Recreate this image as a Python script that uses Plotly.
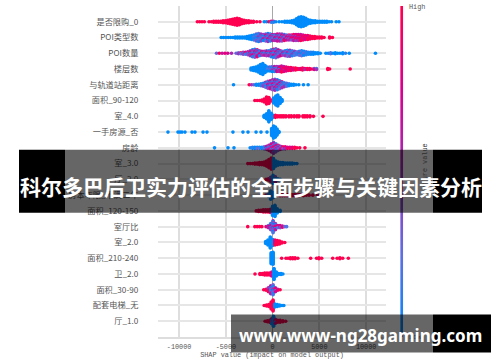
import plotly.graph_objects as go

features = ["是否限购_0","POI类型数","POI数量","楼层数","与轨道站距离","面积_90-120","室_4.0","一手房源_否","房龄","室_3.0",
            "厅_2.0","房本年限_不满二年","面积_120-150","室厅比","室_2.0","面积_210-240","卫_2.0","面积_30-90","配套电梯_无","厅_1.0"]

r0_x=[-8050,-7800,-7550,-7300,-6800,-6550,-6300,-6050,-5800,-5550,-5300,-5050,-4800,-4550,-4300,-4050,-3800,-3550,-3300,-3050,-2800,-2550,-2300,-2050,-1700,-1350,-900,-650,-400,-150,100,350,700,1000,1300,1550,1800,2050,2300,2550,2800,3050,3300,3550,3800,4050,4300,4550,4800,5050,5300,5550,5800,6050,6300,6800,7100]
r0_n=[1,1,1,1,1,1,2,2,2,2,3,3,4,5,6,7,8,7,5,4,3,3,2,2,1,1,1,1,1,2,2,1,1,1,2,2,2,3,4,7,10,11,10,8,5,4,3,3,2,2,2,2,2,1,1,1,1]
r0_f=[1]*26+[0,0,1,.5,.5,0]+[0]*25

r1_x=[-5500,-5250,-5000,-4750,-4500,-4250,-4000,-3750,-3500,-3250,-3000,-2750,-2500,-2250,-2000,-1750,-1500,-1250,-1000,-750,-500,-250,0,250,500,750,1000,1250,1500,1750,2000,2250,2500,2750,3000,3250,3500,3750,4000,4250,4500,4750,5000,5250,5500,6100,6400]
r1_n=[1,1,1,1,1,1,2,2,2,2,2,3,4,5,6,8,9,8,7,8,9,8,7,7,8,8,8,7,6,6,6,7,7,7,7,6,5,5,4,3,3,2,2,2,1,2,1]
r1_f=[0]*14+[.1,.15,.25,.3,.35,.4,.4,.4,.45,.45,.5,.5,.5,.55,.55,.65,.7,.75,.75,.8,.85,.85,.9,.9,.95,1,1,1,1,1,1,1,1]

r2_x=[-6000,-5700,-5400,-5100,-4800,-4400,-3900,-3650,-3400,-3150,-2900,-2650,-2400,-2150,-1900,-1650,-1400,-1150,-900,-650,-400,-150,100,350,600,850,1100,1350,1600,1850,2100,2350,2600,2850,3100,3350,3600,3850,4100,4350,4600,4850,5100,5700,5950,6200,6450,6700,6950,7200,7500,7800,8200,11000]
r2_n=[1,1,1,1,1,1,1,2,2,3,3,4,6,8,9,8,6,5,5,6,6,8,9,10,8,6,5,6,7,7,6,5,4,5,6,5,4,3,3,3,2,2,1,1,1,2,1,2,1,1,2,1,1,1]
r2_f=[.65]*7+[.6,.6,.55,.55,.5,.5,.45,.45,.45,.45,.45,.45,.45,.45,.45,.45,.45,.4,.4,.35,.35,.3,.3,.25,.25,.2,.2,.15,.15,.1,.1,.05,.05,0,0,0,0,0,.1,0,0,0,0,0,.1,0,0]

r3_x=[-2300,-2050,-1800,-1550,-1300,-1050,-800,-550,-300,-50,200,450,700,950,1200,1450,1700,1950,2200,2450,2700,2950,3200,3450,3700,3950,4200,4450,4700,5900,6100,8300]
r3_n=[3,4,5,7,10,12,8,5,5,6,6,6,6,7,6,5,4,4,3,3,2,2,3,2,2,2,1,2,2,2,1,1]
r3_f=[0,0,0,0,0,0,0,.1,.2,.25,.4,.45,.55,.85,.8,.9,.9,.9,.9,1,1,.9,1,.8,1,.9,1,.7,.6,1,1,1]

r4_x=[-4180,-2500,-2250,-2000,-1750,-1500,-1250,-1000,-750,-500,-250,0,250,500,750,1000,1250,1500,1750,2000,2250,2500,2800,3300,3800]
r4_n=[1,1,1,1,2,2,3,4,6,8,9,11,12,11,9,7,5,4,3,2,2,1,1,1,1]
r4_f=[0,1,.5,.2,0,0,.1,.2,.3,.4,.45,.45,.45,.45,.4,.35,.25,.15,.1,0,0,0,0,0,0]

r5_x=[-1900,-1650,-1400,-1150,-900,-650,-400,-150,100,350,550,800,1000]
r5_n=[1,1,1,2,4,8,7,2,6,10,12,7,3]
r5_f=[1,1,1,1,1,1,1,1,0,0,0,0,0]

r6_x=[-900,-650,-400,-150,50,300,550,790,1000,1200,1430,1750,2000,2300,2600,2820,3250,3460,3700,4000,4370,5390]
r6_n=[3,6,12,7,3,3,2,2,2,2,2,2,2,2,2,2,2,2,2,2,1,1]
r6_f=[0,0,0,0,0,1,1,1,1,1,1,1,1,1,1,1,1,1,1,1,1,1]

r7_x=[-11190,-10120,-9900,-9690,-9370,-8620,-8300,-7440,-7020,-4240,-3170,-2630,-1770,-1240,-600,-100,100,300,480,680]
r7_n=[1,1,1,1,1,1,1,1,1,1,1,1,1,1,1,8,13,11,7,2]
r7_f=[0]*20

r8_x=[-6210,-4770,-4130,-2400,-2150,-1900,-1650,-1400,-1150,-900,-650,-400,-150,100,350,600,850,1100,1350,1600,1850,2100,2350,2600,2900,3460]
r8_n=[1,1,1,1,2,2,2,2,2,3,4,6,9,12,9,6,4,3,3,2,2,2,2,1,1,1]
r8_f=[0,0,0,0,.1,0,.2,.3,0,.3,.4,.5,.55,.6,.5,.5,.6,.7,.8,.8,.9,.9,1,1,1,1]

r9_x=[-2650,-2400,-2150,-1900,-1650,-1400,-1150,-900,-650,-400,-150,100,350,600,850,1100,1350,1600,1850,2100,2350,2600]
r9_n=[1,1,1,2,2,3,3,4,6,9,12,11,6,4,3,3,2,2,2,2,1,1]
r9_f=[1,1,1,1,1,1,1,1,1,1,1,0,0,0,0,0,0,0,0,0,0,0]

r10_x=[-700,-450,-200,50,300,550,800]
r10_n=[1,2,5,9,6,2,1]
r10_f=[1,1,.6,0,.3,0,0]

r11_x=[-1200,-700,-450,-200,50,300,800,1050,1300,1550,1800,2050,2300,2550,2800,3050,3300,3600,3900,4300,4800]
r11_n=[1,1,3,9,6,2,2,2,2,2,2,2,2,2,2,1,2,1,1,1,1]
r11_f=[1,1,.2,0,0,0,1,1,1,1,1,1,1,1,1,1,1,1,1,1,1]

r12_x=[-1750,-1500,-1250,-1000,-750,-500,-250,0,250,500,800]
r12_n=[1,2,2,3,3,3,4,10,12,5,2]
r12_f=[1,1,1,1,1,1,1,0,0,0,0]

r13_x=[-2660,-1900,-1650,-1400,-1150,-700,-450,-200,50,300,550,800,1050,1300,1500]
r13_n=[1,1,1,1,1,1,3,7,13,7,3,3,2,1,1]
r13_f=[1,1,1,1,1,.9,.6,.4,.3,.5,.6,.7,.7,.65,.6]

r14_x=[-740,-500,-250,0,250,500,750,1000,1300]
r14_n=[3,6,12,7,6,5,4,2,1]
r14_f=[0,0,0,0,.9,1,1,1,1]

r15_x=[-150,50,970,1430,1650,1900,2150,2400,2700,4070,4700,4950,5250,6430,6900,7200,7500,8100]
r15_n=[12,13,1,1,1,2,2,2,1,1,1,2,1,1,1,2,1,1]
r15_f=[0,0]+[1]*16

r16_x=[-1880,-1350,-1100,-850,-600,-350,-100,150,400,650,900,1100]
r16_n=[1,2,2,3,3,3,5,12,5,2,2,1]
r16_f=[1,1,1,1,1,1,.8,0,0,0,0,0]

r17_x=[-950,-700,-450,-200,50,300,550,800]
r17_n=[1,2,5,9,11,5,2,1]
r17_f=[1,1,.7,.3,.25,.6,.8,1]

r18_x=[-900,-650,-400,-150,50,250,500,750,1000,1200]
r18_n=[1,2,3,8,12,4,3,2,1,1]
r18_f=[1,1,1,1,1,0,0,0,0,0]

r19_x=[-800,-550,-300,-100,100,300,550,800,1100,1400]
r19_n=[1,2,3,6,11,5,3,3,2,1]
r19_f=[1,1,1,.4,0,.6,1,1,1,1]

all_x=[r0_x,r1_x,r2_x,r3_x,r4_x,r5_x,r6_x,r7_x,r8_x,r9_x,r10_x,r11_x,r12_x,r13_x,r14_x,r15_x,r16_x,r17_x,r18_x,r19_x]
all_n=[r0_n,r1_n,r2_n,r3_n,r4_n,r5_n,r6_n,r7_n,r8_n,r9_n,r10_n,r11_n,r12_n,r13_n,r14_n,r15_n,r16_n,r17_n,r18_n,r19_n]
all_f=[r0_f,r1_f,r2_f,r3_f,r4_f,r5_f,r6_f,r7_f,r8_f,r9_f,r10_f,r11_f,r12_f,r13_f,r14_f,r15_f,r16_f,r17_f,r18_f,r19_f]

bad=[(i,len(a),len(b),len(c)) for i,(a,b,c) in enumerate(zip(all_x,all_n,all_f)) if not len(a)==len(b)==len(c)]
assert not bad,bad

x_ticks=[-10000,-5000,0,5000,10000]
x_labels=["-10000","-5000","0","5000","10000"]

W,H=500,362
L,R,T,B=158,386,6,337.5
full_R=440
colorscale=[[0,"#008bfb"],[.25,"#5f6fe0"],[.5,"#a030b8"],[.75,"#d80090"],[1,"#ff0051"]]
row_px=(B-T)/21
pattern=[-1,.3,1,-.3,0,-1,.5]

px,py,pc=[],[],[]
for i,(xs,ns,fs) in enumerate(zip(all_x,all_n,all_f)):
    for b,(x,n,f) in enumerate(zip(xs,ns,fs)):
        for k in range(n):
            off=(k-(n-1)/2)*1.0/row_px
            px.append(x); py.append(i+off)
            v=f+0.4*4*f*(1-f)*pattern[(k*3+b*2)%7]
            pc.append(min(1,max(0,v)))

fig=go.Figure()
fig.add_trace(go.Scatter(x=px,y=py,mode="markers",showlegend=False,hoverinfo="skip",
    marker=dict(size=3.6,color=pc,cmin=0,cmax=1,colorscale=colorscale,line=dict(width=0))))
fig.add_trace(go.Heatmap(z=[[0,0],[1,1]],y=[0,1],x=[0,1],xaxis="x2",yaxis="y2",zsmooth="best",colorscale=colorscale,zmin=0,zmax=1,showscale=False,hoverinfo="skip"))

grey="#555555"
fig.update_layout(width=W,height=H,margin=dict(l=L,r=W-full_R,t=T,b=H-B,autoexpand=False),
    paper_bgcolor="white",plot_bgcolor="white",showlegend=False,
    xaxis=dict(range=[-12257,12128],domain=[0,(R-L)/(full_R-L)],tickvals=x_ticks,ticktext=x_labels,showgrid=True,gridcolor="#dedede",gridwidth=1.5,
        zeroline=True,zerolinecolor="#a8a8a8",zerolinewidth=1,showline=True,linecolor="#dddddd",linewidth=1.5,
        ticks="outside",ticklen=2,tickcolor="rgba(0,0,0,0)",automargin=False,
        tickfont=dict(family="Liberation Mono",size=6.8,color=grey),
        title=dict(text="SHAP value (impact on model output)",standoff=2,font=dict(family="Liberation Mono",size=6.85,color=grey))),
    yaxis=dict(range=[20,-1],tickvals=list(range(20)),ticktext=features,showgrid=True,gridcolor="#e6e6e6",gridwidth=1.5,zeroline=False,
        ticks="outside",ticklen=17,tickcolor="rgba(0,0,0,0)",automargin=False,
        tickfont=dict(family="Noto Sans CJK SC",size=8.2,color=grey)),
    xaxis2=dict(domain=[(400.2-L)/(full_R-L),(403.2-L)/(full_R-L)],anchor="y2",visible=False,range=[0,1]),
    yaxis2=dict(domain=[0,1],anchor="x2",range=[0,1],visible=False))

def ax(v): return (v-L)/(full_R-L)
def ay(v): return (B-v)/(B-T)

fig.add_annotation(text="High",xref="paper",yref="paper",x=ax(407),y=ay(7),xanchor="left",yanchor="middle",showarrow=False,
    font=dict(family="Liberation Mono",size=6.85,color=grey))
fig.add_annotation(text="Low",xref="paper",yref="paper",x=ax(407),y=ay(337),xanchor="left",yanchor="middle",showarrow=False,
    font=dict(family="Liberation Mono",size=6.85,color="#333333"))
fig.add_annotation(text="Feature value",xref="paper",yref="paper",x=ax(425),y=ay(171),textangle=-90,xanchor="center",yanchor="middle",showarrow=False,
    font=dict(family="Liberation Mono",size=6.85,color="#2e2e2e"))

def rect(x0,y0,x1,y1,c):
    fig.add_shape(type="rect",xref="paper",yref="paper",layer="above",line_width=0,fillcolor=c,
        x0=ax(x0),x1=ax(x1),y0=ay(y1),y1=ay(y0))
rect(19,150,65,213,"#000000")
rect(65,150,433,213,"rgba(0,0,0,0.6)")
rect(433,150,482,213,"#000000")
rect(231,315,433,353,"rgba(0,0,0,0.6)")
rect(433,315,491,353,"#000000")

fig.add_annotation(text="<b>科尔多巴后卫实力评估的全面步骤与关键因素分析</b>",xref="paper",yref="paper",
    x=ax(250.5),y=ay(186),xanchor="center",yanchor="middle",showarrow=False,
    font=dict(family="Noto Sans CJK SC",size=21,color="white"))
fig.add_annotation(text="<b>www.www-ng28gaming.com</b>",xref="paper",yref="paper",
    x=ax(360),y=ay(336),xanchor="center",yanchor="middle",showarrow=False,
    font=dict(family="Noto Sans",size=17,color="white"))

fig.write_html("out.html",config=dict(displayModeBar=False),
    post_script="document.body.style.margin='0';document.documentElement.style.overflow='hidden';")
